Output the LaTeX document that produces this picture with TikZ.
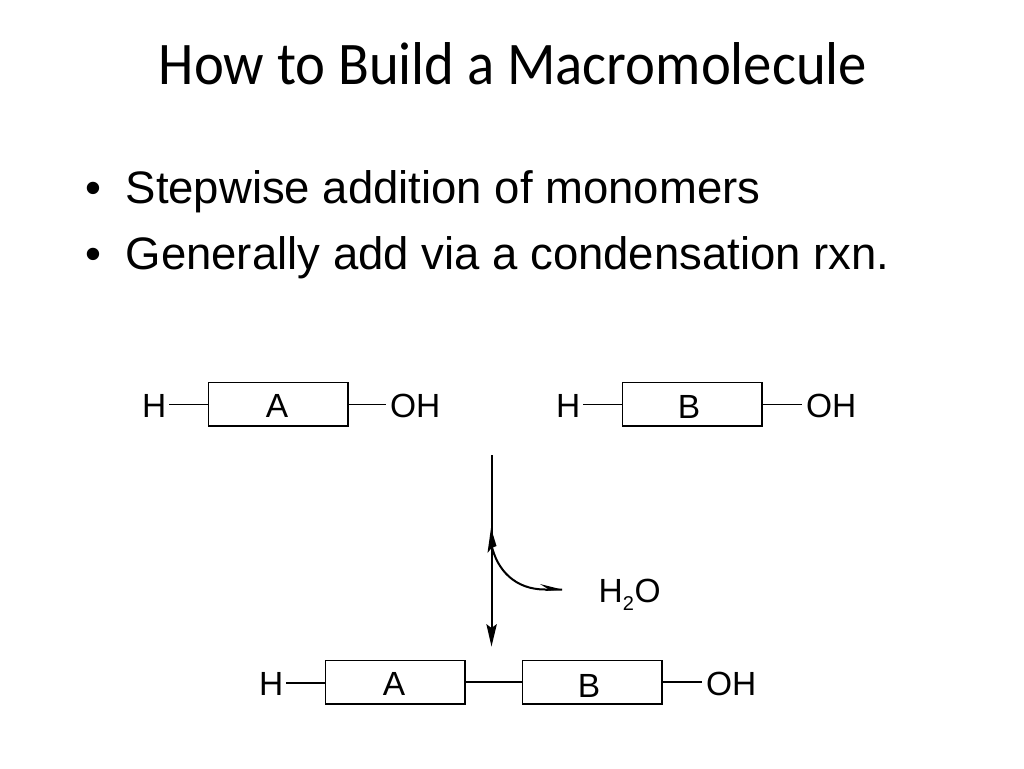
\documentclass[tikz,border=0pt]{standalone}
\usepackage{fontspec}
\usepackage{graphicx}
\setmainfont{Liberation Sans}
\newfontfamily\titlefont{Carlito}
\tikzset{
  x=1pt,y=-1pt,
  box/.style={draw=black,line width=1.7pt,outer sep=0pt,minimum width=139.7pt,minimum height=43.2pt,inner sep=0pt,anchor=north west},
  boxlabel/.style={anchor=base,font=\fontsize{33.5}{33.5}\selectfont,inner sep=0pt},
  atom/.style={anchor=base west,font=\fontsize{33.5}{33.5}\selectfont,inner sep=3pt,outer sep=0pt},
  bond/.style={line width=1.5pt},
  bodytext/.style={anchor=base west,inner sep=0pt,font=\fontsize{45.5}{45.5}\selectfont},
  flow/.style={line width=2pt}
}
\begin{document}
\begin{tikzpicture}
\useasboundingbox (0,0) rectangle (1024,768);
\node[anchor=base,inner sep=0pt] (title) at (513,84) {\scalebox{1.05}[1.12]{\titlefont\fontsize{54}{54}\selectfont How to Build a Macromolecule}};
\node[bodytext] (b1) at (85,203) {•};
\node[bodytext] (t1) at (125.5,203) {Stepwise addition of monomers};
\node[bodytext] (b2) at (85,269) {•};
\node[bodytext] (t2) at (125.5,269) {Generally add via a condensation rxn.};

% top left
\node[box] (A1) at (208.5,382.5) {};
\node[boxlabel] (lA1) at (277,417) {A};
\node[atom] (hA1) at (139,417.5) {H};
\node[atom] (oA1) at (387,417.5) {OH};
\draw[bond,shorten >=1pt] ([yshift=-.2pt]A1.west -| hA1.east) -- ([yshift=-.2pt]A1.west);
\draw[bond,shorten >=1pt] ([yshift=-.2pt]A1.east) -- ([yshift=-.2pt]A1.east -| oA1.west);
% top right
\node[box] (B1) at (622.5,382.5) {};
\node[boxlabel] (lB1) at (689,418.5) {B};
\node[atom] (hB1) at (553,417.5) {H};
\node[atom] (oB1) at (803,417.5) {OH};
\draw[bond,shorten >=1pt] ([yshift=-.2pt]B1.west -| hB1.east) -- ([yshift=-.2pt]B1.west);
\draw[bond,shorten >=1pt] ([yshift=-.2pt]B1.east) -- ([yshift=-.2pt]B1.east -| oB1.west);
% bottom
\node[box] (A2) at (325.5,660.5) {};
\node[boxlabel] (lA2) at (394,695.5) {A};
\node[atom] (hA2) at (256,695.5) {H};
\node[box] (B2) at (522.5,660.5) {};
\node[boxlabel] (lB2) at (589,697.5) {B};
\node[atom] (oB2) at (703,695.5) {OH};
\draw[bond,shorten >=1pt] ([yshift=-1pt]A2.west -| hA2.east) -- ([yshift=-1pt]A2.west);
\draw[bond,shorten >=1pt] (A2.east) -- (B2.west);
\draw[bond,shorten <=1pt,shorten >=1pt] (B2.east) -- (B2.east -| oB2.west);

% H2O
\node[anchor=base west,inner sep=0pt,font=\fontsize{33.5}{33.5}\selectfont] (water) at (598.5,602) {H\raisebox{-8pt}{\fontsize{20}{20}\selectfont 2}\kern0.5pt O};

% arrows
\coordinate (start) at (491.7,455);
\coordinate (end) at (491.5,646.5);
\coordinate (branch) at (491,528);
\coordinate (leave) at (562,589.5);
\draw[flow] (start) -- (491.7,628);
\fill (end) -- (486.3,624) -- (491.5,628) -- (496.9,624) -- cycle;
\draw[line width=2pt] (491.5,545) .. controls (497,570) and (515,589.5) .. (545,589.5) -- (leave);
\fill (branch) -- (487.5,553) -- (491.5,548) -- (496.5,546) -- cycle;
\fill (leave) -- (540,584) -- (548,589) -- (545,591) -- cycle;
\end{tikzpicture}
\end{document}
